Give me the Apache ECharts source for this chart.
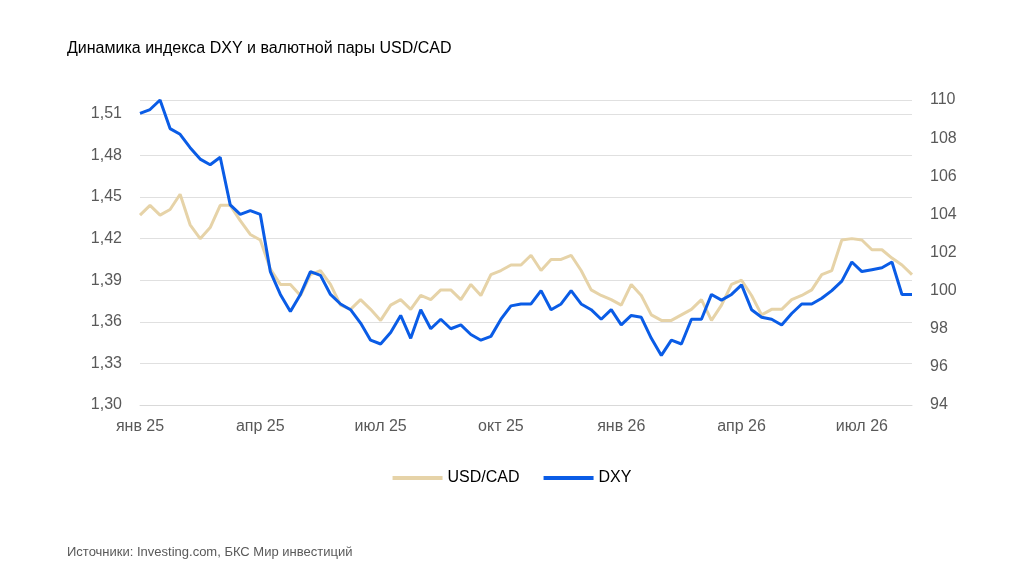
<!DOCTYPE html>
<html><head><meta charset="utf-8">
<script src="https://cdn.jsdelivr.net/npm/echarts@6/dist/echarts.min.js"></script>
<style>body{margin:0}#c{width:1024px;height:583px}</style></head>
<body><div id="c"></div>
<script>
const quarterLabels = ['янв 25','апр 25','июл 25','окт 25','янв 26','апр 26','июл 26'];
const dxy = [109.3,109.5,110,108.5,108.2,107.5,106.9,106.6,107,104.5,104,104.2,104,101,99.8,98.9,99.8,101,100.8,99.8,99.3,99,98.3,97.4,97.2,97.8,98.7,97.5,99,98,98.5,98,98.2,97.7,97.4,97.6,98.5,99.2,99.3,99.3,100,99,99.3,100,99.3,99,98.5,99,98.2,98.7,98.6,97.5,96.6,97.4,97.2,98.5,98.5,99.8,99.5,99.8,100.3,99,98.6,98.5,98.2,98.8,99.3,99.3,99.6,100,100.5,101.5,101,101.1,101.2,101.5,99.8,99.8];
const usdcad = [1.437,1.444,1.437,1.441,1.452,1.43,1.42,1.428,1.444,1.444,1.433,1.423,1.419,1.398,1.387,1.387,1.379,1.394,1.397,1.387,1.372,1.369,1.376,1.369,1.361,1.372,1.376,1.369,1.379,1.376,1.383,1.383,1.376,1.387,1.379,1.394,1.397,1.401,1.401,1.408,1.397,1.405,1.405,1.408,1.397,1.383,1.379,1.376,1.372,1.387,1.379,1.365,1.361,1.361,1.365,1.369,1.376,1.361,1.372,1.387,1.39,1.379,1.365,1.369,1.369,1.376,1.379,1.383,1.394,1.397,1.419,1.42,1.419,1.412,1.412,1.406,1.401,1.394];
const cats = usdcad.map((_, i) => String(i));
const ch = echarts.init(document.getElementById('c'));
ch.setOption({
  animation:false,
  textStyle:{fontFamily:'Liberation Sans, Arial'},
  title:[{text:'Динамика индекса DXY и валютной пары USD/CAD',left:62,top:36,textStyle:{fontSize:16,fontWeight:'normal',color:'#000'}},
         {text:'Источники: Investing.com, БКС Мир инвестиций',left:62,top:541,textStyle:{fontSize:13,fontWeight:'normal',color:'#595959'}}],
  legend:{top:465,left:'center',icon:'rect',itemWidth:50,itemHeight:4,itemGap:24,textStyle:{fontSize:16,color:'#000'},data:['USD/CAD','DXY']},
  grid:{left:140,right:112,top:100,bottom:178},
  xAxis:{type:'category',data:cats,boundaryGap:false,
    axisLine:{lineStyle:{color:'#d9d9d9'}},axisTick:{show:false},
    axisLabel:{interval:0,fontSize:16,color:'#595959',margin:14,
      formatter:(v,i)=> i%12===0 ? (quarterLabels[i/12]||'') : ''}},
  yAxis:[{type:'value',min:1.30,max:1.52,interval:0.03,position:'left',
    axisLabel:{fontSize:16,color:'#595959',margin:18,showMaxLabel:false,formatter:v=>v.toFixed(2).replace('.',',')},
    splitLine:{lineStyle:{color:'#e0e0e0'}},axisLine:{show:false},axisTick:{show:false}},
   {type:'value',min:94,max:110,interval:2,position:'right',
    axisLabel:{fontSize:16,color:'#595959',margin:18},splitLine:{show:false},axisLine:{show:false},axisTick:{show:false}}],
  series:[
   {name:'USD/CAD',type:'line',data:usdcad,yAxisIndex:0,showSymbol:false,lineStyle:{width:3,color:'#e6d3a8'},itemStyle:{color:'#e6d3a8'}},
   {name:'DXY',type:'line',data:dxy,yAxisIndex:1,showSymbol:false,lineStyle:{width:3,color:'#0a5ce6'},itemStyle:{color:'#0a5ce6'}}
  ]
});
</script></body></html>
